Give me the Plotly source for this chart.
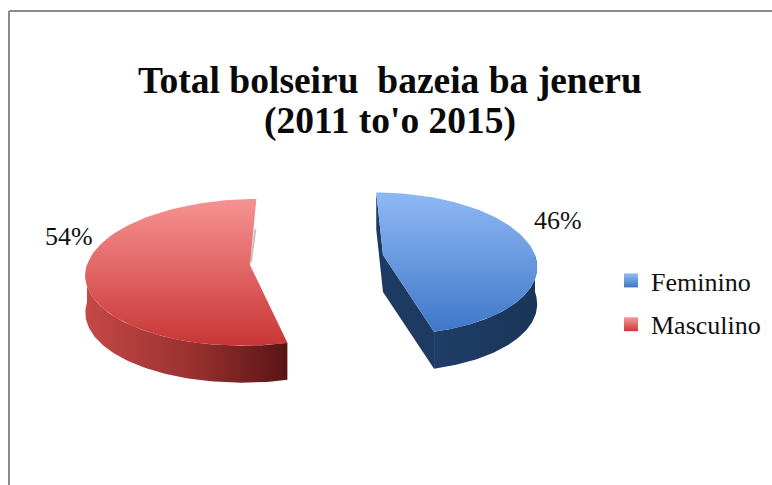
import math
import plotly.graph_objects as go

categories = ["Feminino", "Masculino"]
values = [46, 54]
title_lines = ["Total bolseiru  bazeia ba jeneru", "(2011 to'o 2015)"]

FONT = "Liberation Serif"
W, H = 772, 485
VANISH_X = 320
DEPTH = 37

# styling per slice, in pixel space of the hidden axes
STYLE = [
    dict(cx=383, cy=255, rx=152, ry=70, p=0.12,
         top=[[0, "#3f78c8"], [1, "#8fb8f5"]],
         rim=[[0, "#1f3d68"], [1, "#1b3558"]],
         cut="#1d3a63", label=(558, 220),
         swatch=("#96bcf7", "#3d75c4")),
    dict(cx=250, cy=265, rx=163, ry=72.6, p=0.10,
         top=[[0, "#c93636"], [1, "#f79292"]],
         rim=[[0, "#c64848"], [0.55, "#96302f"], [1, "#5a1414"]],
         cut=None, label=(69, 236),
         swatch=("#f79a9a", "#cc3a3a")),
]


def project(theta, st):
    u, v = math.sin(theta), math.cos(theta)
    s = 1 / (1 + st["p"] * v)
    x = VANISH_X + (st["cx"] - VANISH_X + st["rx"] * u) * s
    y = st["cy"] - st["ry"] * v * s
    return x, y


def arc(a0, a1, st, n=90):
    return [project(a0 + (a1 - a0) * i / n, st) for i in range(n + 1)]


fig = go.Figure()
total = sum(values)
start = 0.0
for name, val, st in zip(categories, values, STYLE):
    end = start + val / total * 2 * math.pi
    rim = arc(start, end, st)
    center = (st["cx"], st["cy"])

    # outer wall: only the part of the rim facing the viewer
    a0, a1 = max(start, math.pi / 2), min(end, 3 * math.pi / 2)
    front = arc(a0, a1, st)
    wx = [p[0] for p in front] + [p[0] for p in reversed(front)] + [front[0][0]]
    wy = [p[1] for p in front] + [p[1] + DEPTH for p in reversed(front)] + [front[0][1]]
    fig.add_trace(go.Scatter(x=wx, y=wy, mode="lines", line=dict(width=0), fill="toself",
                             fillgradient=dict(type="horizontal", colorscale=st["rim"]),
                             showlegend=False, hoverinfo="skip"))

    # flat cut faces
    if st["cut"]:
        for edge in (rim[0], rim[-1]):
            fx = [edge[0], center[0], center[0], edge[0], edge[0]]
            fy = [edge[1], center[1], center[1] + DEPTH, edge[1] + DEPTH, edge[1]]
            fig.add_trace(go.Scatter(x=fx, y=fy, mode="lines", line=dict(width=0), fill="toself",
                                     fillcolor=st["cut"], showlegend=False, hoverinfo="skip"))
    else:
        edge = rim[-1]
        fig.add_trace(go.Scatter(x=[edge[0] - 1, center[0] + 1], y=[edge[1] + 30, center[1] - 3],
                                 mode="lines", line=dict(width=2, color="#c4c4c4"),
                                 showlegend=False, hoverinfo="skip"))

    # top surface
    tx = [center[0]] + [p[0] for p in rim] + [center[0]]
    ty = [center[1]] + [p[1] for p in rim] + [center[1]]
    fig.add_trace(go.Scatter(x=tx, y=ty, mode="lines", line=dict(width=0), fill="toself",
                             fillgradient=dict(type="vertical", colorscale=st["top"]),
                             showlegend=False, name=name,
                             hovertemplate=f"{name}: {val}%<extra></extra>"))

    # legend entry
    fig.add_trace(go.Scatter(x=[None], y=[None], mode="markers", name=name, legendgroup=name,
                             marker=dict(symbol="square", size=14, color=st["swatch"][0],
                                         gradient=dict(type="vertical", color=st["swatch"][1]))))

    fig.add_annotation(x=st["label"][0], y=st["label"][1], text=f"{round(val / total * 100)}%",
                       showarrow=False, font=dict(family=FONT, size=26, color="#111111"))
    start = end

for line, y in zip(title_lines, (80, 121)):
    fig.add_annotation(x=390, y=y, text=f"<b>{line}</b>", showarrow=False,
                       font=dict(family=FONT, size=37.5, color="#0a0a0a"))

fig.update_layout(
    width=W, height=H, margin=dict(l=0, r=0, t=0, b=0),
    paper_bgcolor="white", plot_bgcolor="white",
    xaxis=dict(range=[0, W], visible=False, fixedrange=True),
    yaxis=dict(range=[H, 0], visible=False, fixedrange=True),
    legend=dict(x=611 / W, y=1 - 257 / H, xanchor="left", yanchor="top",
                font=dict(family=FONT, size=26, color="#111111"),
                tracegroupgap=7, bgcolor="rgba(0,0,0,0)"),
    shapes=[
        dict(type="line", xref="x", yref="y", x0=9, x1=9, y0=11, y1=485,
             line=dict(color="#8a8a8a", width=2)),
        dict(type="line", xref="x", yref="y", x0=9, x1=772, y0=11, y1=11,
             line=dict(color="#8a8a8a", width=2)),
    ],
)
fig.write_html("out.html", config={"displayModeBar": False},
               post_script="document.body.style.margin='0';document.body.style.overflow='hidden';")
